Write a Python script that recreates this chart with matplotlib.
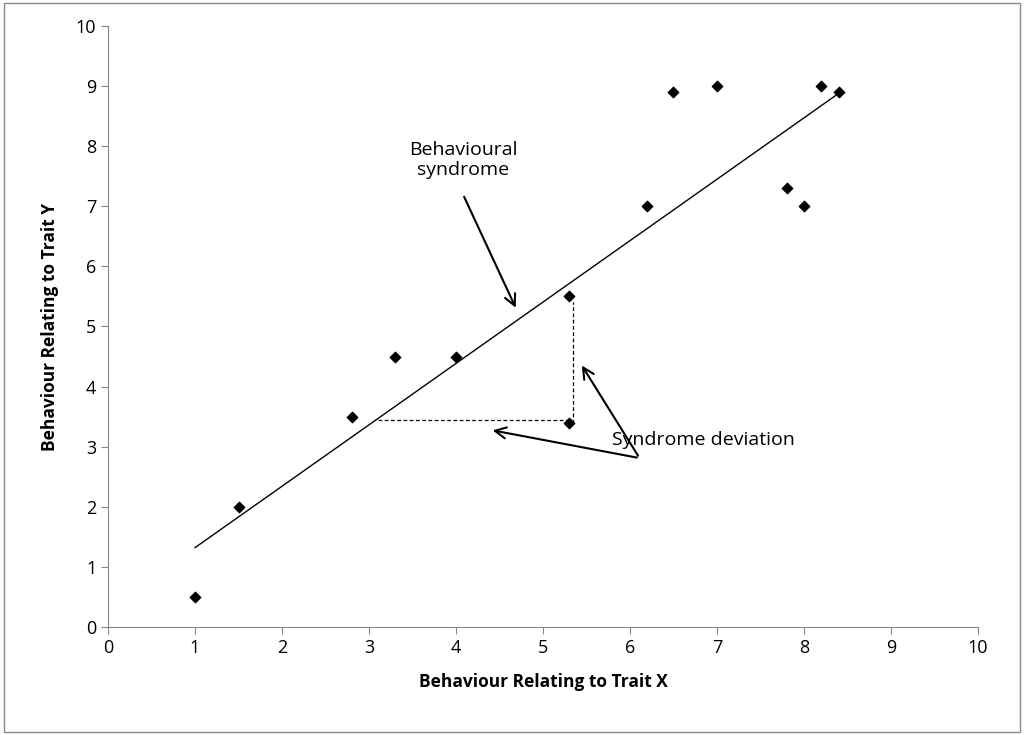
import matplotlib.pyplot as plt
from matplotlib.patches import Rectangle

plt.rcParams['font.family'] = ['Open Sans', 'DejaVu Sans']

trait_x = [1, 1.5, 2.8, 3.3, 4, 5.3, 5.3, 6.2, 6.5, 7, 7.8, 8, 8.2, 8.4]
trait_y = [0.5, 2, 3.5, 4.5, 4.5, 5.5, 3.4, 7, 8.9, 9, 7.3, 7, 9, 8.9]
line_x = [1, 8.4]
line_y = [1.32, 8.88]

fig = plt.figure(figsize=(10.24, 7.35), dpi=100)
fig.patches.append(Rectangle((0.004, 0.004), 0.992, 0.992, transform=fig.transFigure,
                             fill=False, edgecolor='#888888', lw=1))
ax = fig.add_axes([0.1055, 0.147, 0.8495, 0.8176])

ax.plot(line_x, line_y, color='black', lw=1)
ax.scatter(trait_x, trait_y, marker='D', s=28, color='black', zorder=3)
ax.plot([3.1, 5.3], [3.45, 3.45], color='black', lw=0.9, ls=(0, (3, 2)))
ax.plot([5.35, 5.35], [3.4, 5.4], color='black', lw=0.9, ls=(0, (3, 2)))

ax.text(4.08, 7.77, 'Behavioural\nsyndrome', ha='center', va='center', fontsize=14)
ax.text(6.84, 3.11, 'Syndrome deviation', ha='center', va='center', fontsize=14)
arrow = dict(arrowstyle='->,head_length=0.8,head_width=0.4', color='black', lw=1.5)
ax.annotate('', xy=(4.70, 5.27), xytext=(4.08, 7.2), arrowprops=arrow)
ax.annotate('', xy=(5.43, 4.39), xytext=(6.11, 2.81), arrowprops=arrow)
ax.annotate('', xy=(4.39, 3.28), xytext=(6.11, 2.81), arrowprops=arrow)

ax.set_xlim(0, 10)
ax.set_ylim(0, 10)
ax.set_xticks(range(11))
ax.set_yticks(range(11))
for s in ['top', 'right']:
    ax.spines[s].set_visible(False)
for s in ['left', 'bottom']:
    ax.spines[s].set_color('#868686')
ax.tick_params(direction='out', length=5, color='#868686', labelsize=13)
ax.set_xlabel('Behaviour Relating to Trait X', fontsize=12.5, fontweight='bold', labelpad=12)
ax.set_ylabel('Behaviour Relating to Trait Y', fontsize=12.5, fontweight='bold', labelpad=12)

fig.savefig('out.png', dpi=100)
